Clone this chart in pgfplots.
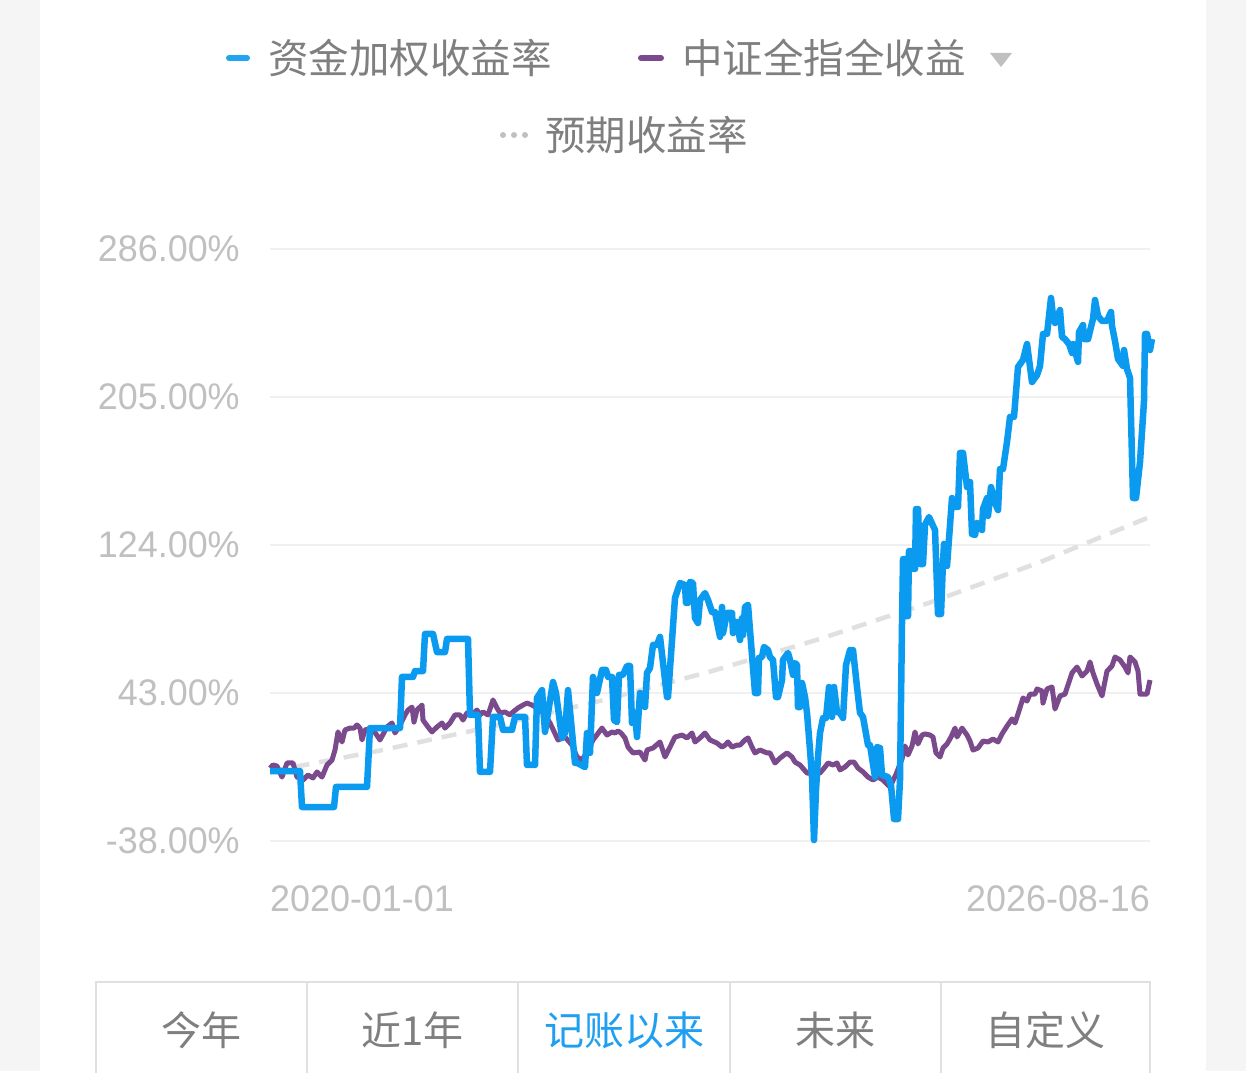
\documentclass[border=0pt]{standalone}
\usepackage{pgfplots}
\pgfplotsset{compat=1.18}
\usepackage{fontspec}
\setmainfont{Liberation Sans}
\newfontfamily\cjk{Noto Sans CJK SC}
\newfontfamily\tickfont[FakeStretch=0.97]{Liberation Sans}
\definecolor{bgGray}{HTML}{F5F5F5}
\definecolor{gridGray}{HTML}{F0F0F0}
\definecolor{tickGray}{HTML}{C0C0C0}
\definecolor{legGray}{HTML}{7F7F7F}
\definecolor{blueL}{HTML}{0A9BF0}
\definecolor{purpleL}{HTML}{7B4A8C}
\definecolor{dashGray}{HTML}{E0E0E0}
\definecolor{tabBlue}{HTML}{1E9FF2}
\definecolor{tabBorder}{HTML}{E0E0E0}
\begin{document}
\begin{tikzpicture}[x=1pt,y=1pt]
\fill[bgGray] (0,0) rectangle (1246,1071);
\fill[white] (40,0) rectangle (1206,1071);
% legend
\draw[blueL!90!white, line width=6pt, line cap=round] (229,1013) -- (247,1013);
\node[anchor=west, inner sep=0pt, text=legGray, font=\cjk\fontsize{40.5}{40.5}\selectfont] at (268,1013) {资金加权收益率};
\draw[purpleL, line width=6pt, line cap=round] (641,1013) -- (661,1013);
\node[anchor=west, inner sep=0pt, text=legGray, font=\cjk\fontsize{40.5}{40.5}\selectfont] at (682,1013) {中证全指全收益};
\fill[tickGray] (990,1018) -- (1012,1018) -- (1001,1004) -- cycle;
\fill[tickGray] (503,936) circle (3);
\fill[tickGray] (514,936) circle (3);
\fill[tickGray] (525,936) circle (3);
\node[anchor=west, inner sep=0pt, text=legGray, font=\cjk\fontsize{40.5}{40.5}\selectfont] at (545,936) {预期收益率};
% axis
\begin{axis}[
  at={(270pt,230pt)}, anchor=south west,
  scale only axis, width=880pt, height=592pt,
  xmin=270, xmax=1150, ymin=-38, ymax=286,
  clip=false,
  axis lines=left,
  x axis line style={draw=none}, y axis line style={draw=none},
  tick style={draw=none},
  xtick=\empty,
  ytick={-38,43,124,205,286},
  yticklabels={-38.00\%,43.00\%,124.00\%,205.00\%,286.00\%},
  yticklabel style={font=\tickfont\fontsize{37}{37}\selectfont, text=tickGray, inner sep=0pt, anchor=east, xshift=-28pt},
  ymajorgrids,
  major grid style={draw=gridGray, line width=2pt},
]
% expected return (dashed)
\addplot[dashGray, line width=4.5pt, dash pattern=on 15pt off 10pt] coordinates {
(270,0) (380,11.5) (490,24.4) (600,38.7) (710,54.7) (820,72.6) (930,92.5) (1040,114.6) (1150,139.4)
};
% CSI all-share total return
\addplot[purpleL, line width=5pt, line join=round] coordinates {
(270,1.9) (273,3.6) (277,3.0) (282,-3.0) (287,4.7) (293,4.7) (297,-3.0) (303,-4.6) (308,-1.9) (313,-3.5)
(317,-0.2) (322,-3.0) (327,3.6) (332,6.3) (335,11.8) (338,21.7) (342,16.2) (345,22.8) (350,23.8) (354,23.8)
(357,25.5) (360,23.8) (362,17.3) (365,22.8) (372,23.8) (380,17.3) (387,24.4) (392,26.6) (395,21.1) (400,25.5)
(405,31.0) (408,33.7) (412,35.3) (414,27.1) (417,33.7) (422,36.4) (423,28.2) (428,24.4) (432,21.7) (437,24.4)
(442,26.6) (445,23.8) (450,26.6) (455,31.0) (460,31.0) (463,28.2) (467,32.1) (472,31.0) (477,33.7) (480,31.0)
(483,32.6) (488,31.0) (493,39.2) (497,34.8) (500,32.1) (505,32.6) (510,31.0) (513,32.6) (518,34.8) (523,36.4)
(527,37.5) (532,36.4) (537,34.8) (543,32.6) (550,26.6) (558,17.3) (565,18.9) (572,14.5) (577,8.0) (582,6.3)
(587,10.7) (593,17.3) (602,23.8) (607,20.0) (612,21.7) (615,21.1) (618,22.2) (621,21.1) (625,18.4) (628,13.4)
(633,10.2) (640,10.7) (645,6.3) (647,11.8) (653,12.9) (660,16.2) (665,8.0) (670,13.4) (675,18.9) (682,20.0)
(687,18.4) (692,21.1) (695,16.2) (700,18.4) (705,21.1) (710,17.3) (717,15.6) (722,13.4) (725,14.5) (728,16.2)
(732,13.4) (737,14.5) (740,14.5) (745,17.3) (748,18.4) (752,13.4) (755,10.2) (760,11.8) (767,10.2) (770,10.2)
(775,4.7) (780,7.4) (787,10.2) (792,8.0) (795,5.2) (800,3.6) (807,-0.8) (813,-0.8) (820,-0.8) (825,2.5)
(828,4.7) (833,3.6) (837,4.7) (840,0.9) (845,2.5) (850,5.2) (854,5.2) (858,1.9) (863,-0.2) (868,-3.0)
(873,-4.6) (878,-3.0) (883,-4.6) (888,-7.4) (890,-8.4) (896,-1.5) (902,6.9) (905,14.0) (908,9.1) (912,14.0)
(915,21.7) (918,15.1) (922,20.0) (925,20.6) (930,20.0) (933,18.9) (936,10.2) (940,8.0) (943,12.9) (947,15.1)
(951,18.9) (955,23.8) (957,18.9) (962,23.8) (967,20.0) (970,16.7) (973,11.8) (978,12.9) (983,16.7) (988,16.2)
(993,17.8) (998,16.2) (1002,20.6) (1007,24.9) (1012,28.8) (1015,26.6) (1018,31.5) (1023,40.3) (1027,38.6) (1030,42.4)
(1035,42.4) (1037,45.2) (1042,44.1) (1043,37.5) (1047,45.2) (1052,46.3) (1055,34.2) (1060,41.4) (1065,42.4) (1068,47.4)
(1072,54.0) (1077,57.2) (1082,52.3) (1087,55.0) (1090,60.0) (1093,54.0) (1097,47.9) (1102,41.4) (1107,55.0) (1112,57.8)
(1115,62.7) (1120,61.1) (1125,57.2) (1128,54.0) (1130,62.7) (1135,60.0) (1138,55.0) (1140,42.4) (1147,42.4) (1150,50.1)
};
% money-weighted return
\addplot[blueL, line width=6.5pt, line join=round] coordinates {
(270,0.3) (300,0.3) (302,-19.4) (334,-19.4) (336,-8.4) (367,-8.4) (370,23.8) (400,23.8) (402,51.8) (413,51.8)
(415,55.0) (423,55.0) (425,75.3) (433,75.3) (437,65.4) (445,65.4) (447,72.6) (468,72.6) (470,31.0) (478,31.0)
(480,-0.2) (490,-0.2) (493,29.9) (500,29.9) (503,22.8) (512,22.8) (515,29.9) (525,29.9) (527,3.6) (535,3.6)
(537,40.3) (542,44.6) (545,21.7) (553,49.0) (556,43.0) (562,18.4) (565,21.1) (568,44.6) (575,4.7) (577,4.7)
(585,2.5) (587,21.1) (590,10.2) (593,51.8) (597,43.0) (602,55.6) (606,55.6) (608,51.8) (612,51.8) (614,28.2)
(617,27.1) (619,52.9) (623,52.9) (627,57.8) (630,57.8) (632,26.6) (635,32.1) (637,18.9) (640,43.0) (645,35.3)
(647,54.0) (650,56.7) (653,69.3) (657,69.3) (660,73.7) (667,40.8) (668,40.8) (675,95.0) (680,103.2) (685,102.1)
(686,92.3) (688,92.3) (690,103.8) (693,103.2) (695,84.0) (698,81.3) (700,93.9) (705,97.7) (708,93.9) (712,87.3)
(715,87.3) (718,79.1) (720,73.7) (722,90.1) (723,75.8) (727,86.8) (732,86.8) (733,75.8) (737,81.9) (740,72.0)
(742,84.0) (743,74.7) (745,90.1) (748,91.2) (755,43.0) (758,43.0) (759,62.2) (762,62.7) (764,68.2) (768,66.5)
(770,62.7) (773,61.1) (776,40.8) (778,40.8) (782,50.1) (783,61.1) (788,64.9) (790,61.1) (793,52.9) (795,59.4)
(797,58.3) (798,35.3) (800,35.3) (802,48.5) (805,40.8) (807,32.1) (810,11.8) (812,-3.0) (814,-37.5) (816,-10.1)
(818,8.0) (820,21.1) (823,29.3) (826,29.3) (829,46.3) (832,29.9) (834,46.3) (837,32.6) (840,32.1) (843,29.3)
(846,58.3) (850,66.5) (853,66.5) (857,46.3) (860,32.1) (863,29.9) (868,14.5) (870,14.5) (875,-3.0) (877,13.4)
(880,12.9) (882,-1.9) (888,-3.0) (891,-7.4) (894,-26.0) (898,-26.0) (900,-4.6) (902,81.3) (903,116.3) (905,116.3)
(906,85.1) (908,85.1) (909,120.7) (912,120.7) (913,110.9) (915,110.9) (916,143.7) (918,143.7) (920,113.6) (923,113.6)
(925,135.0) (929,139.3) (935,132.2) (937,101.0) (938,86.2) (941,86.2) (943,114.7) (944,124.6) (947,112.5) (952,149.7)
(955,144.8) (958,144.8) (960,174.4) (963,174.4) (967,155.7) (970,158.5) (972,130.0) (975,129.5) (977,136.0) (982,132.2)
(983,143.7) (987,149.7) (988,139.9) (991,155.7) (995,147.0) (998,143.1) (1000,165.6) (1003,165.6) (1007,180.4) (1010,194.1)
(1014,194.1) (1018,221.4) (1023,225.3) (1027,234.0) (1032,213.2) (1037,217.0) (1040,222.0) (1043,239.5) (1047,239.5) (1051,259.2)
(1053,249.3) (1055,245.5) (1060,252.6) (1062,237.9) (1065,236.7) (1069,234.0) (1072,229.1) (1073,234.0) (1078,224.2) (1079,240.5)
(1083,244.4) (1084,236.7) (1088,236.7) (1093,247.7) (1095,258.1) (1098,249.3) (1102,246.6) (1107,246.6) (1111,251.5) (1112,243.9)
(1115,235.6) (1118,225.8) (1123,222.0) (1124,230.7) (1127,220.3) (1130,215.4) (1133,149.7) (1136,149.7) (1140,169.4) (1144,202.8)
(1145,239.5) (1147,239.5) (1150,230.7) (1152,236.7)
};
\end{axis}
% x-axis end labels
\node[anchor=west, inner sep=0pt, text=tickGray, font=\tickfont\fontsize{37}{37}\selectfont] at (270,172) {2020-01-01};
\node[anchor=east, inner sep=0pt, text=tickGray, font=\tickfont\fontsize{37}{37}\selectfont] at (1150,172) {2026-08-16};
% tabs
\draw[tabBorder, line width=2pt] (96,-2) -- (96,89) -- (1150,89) -- (1150,-2);
\foreach \xx in {307,518,730,941} {\draw[tabBorder, line width=2pt] (\xx,-2) -- (\xx,89);}
\node[text=legGray, font=\cjk\fontsize{40}{40}\selectfont, inner sep=0pt] at (201.5,41) {今年};
\node[text=legGray, font=\cjk\fontsize{40}{40}\selectfont, inner sep=0pt] at (412.5,41) {近1年};
\node[text=tabBlue, font=\cjk\fontsize{40}{40}\selectfont, inner sep=0pt] at (624,41) {记账以来};
\node[text=legGray, font=\cjk\fontsize{40}{40}\selectfont, inner sep=0pt] at (835.5,41) {未来};
\node[text=legGray, font=\cjk\fontsize{40}{40}\selectfont, inner sep=0pt] at (1045.5,41) {自定义};
\clip (0,0) rectangle (1246,1071);
\end{tikzpicture}
\end{document}
